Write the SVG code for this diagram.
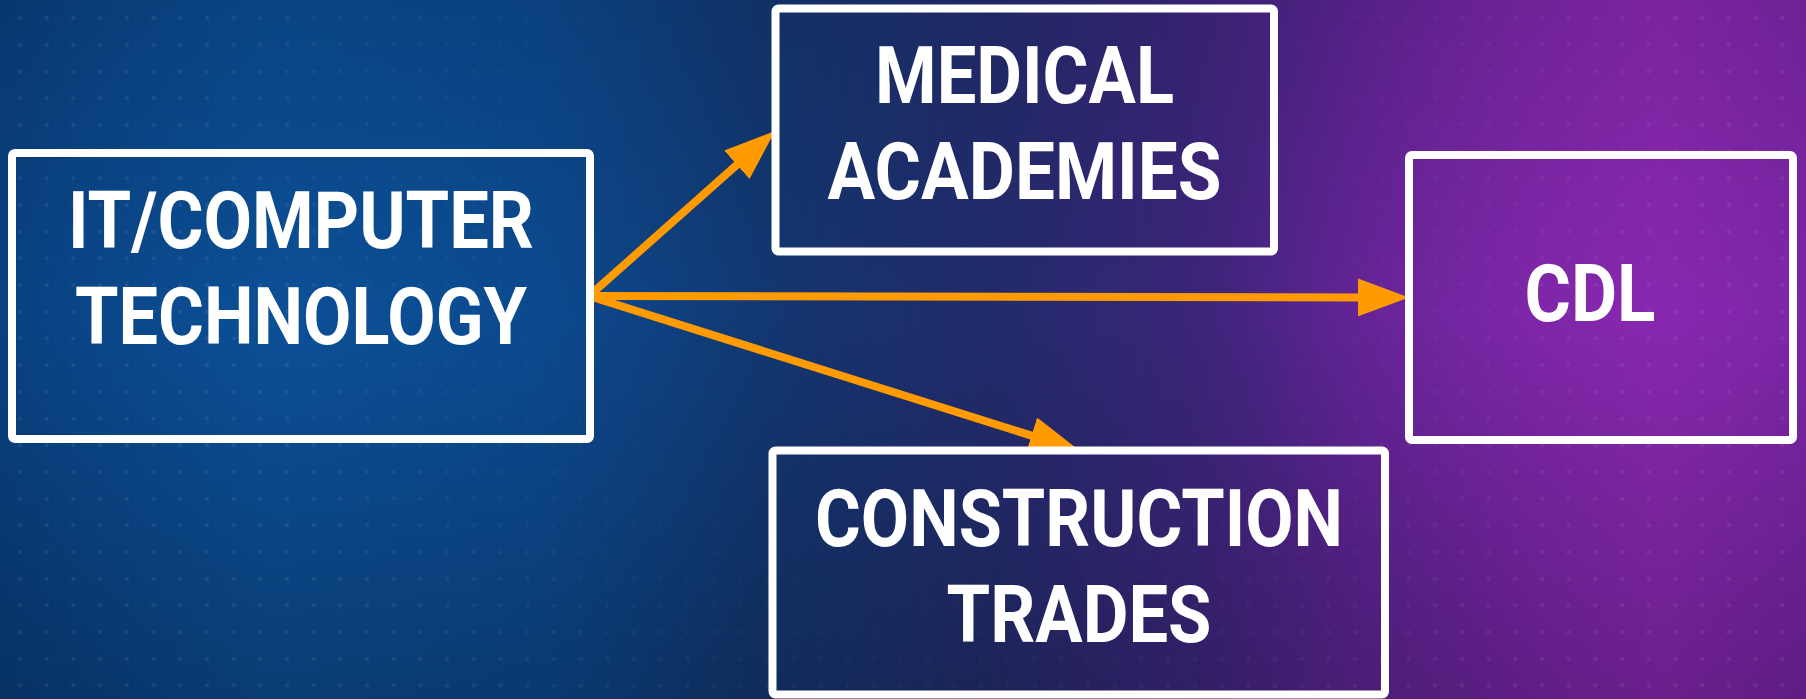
<svg xmlns="http://www.w3.org/2000/svg" width="1806" height="699" viewBox="0 0 1806 699">
  <defs>
    <linearGradient id="bgH" x1="0" y1="0" x2="1806" y2="0" gradientUnits="userSpaceOnUse">
      <stop offset="0" stop-color="#083a76"/>
      <stop offset="0.15" stop-color="#0a4789"/>
      <stop offset="0.3" stop-color="#0b4486"/>
      <stop offset="0.42" stop-color="#12366f"/>
      <stop offset="0.55" stop-color="#222b6b"/>
      <stop offset="0.66" stop-color="#3a2579"/>
      <stop offset="0.75" stop-color="#5a2390"/>
      <stop offset="0.85" stop-color="#7524a2"/>
      <stop offset="0.92" stop-color="#8226aa"/>
      <stop offset="1" stop-color="#7323a0"/>
    </linearGradient>
    <radialGradient id="glowBlue" cx="300" cy="340" r="520" gradientUnits="userSpaceOnUse">
      <stop offset="0" stop-color="#0e5aa8" stop-opacity="0.45"/>
      <stop offset="1" stop-color="#0e5aa8" stop-opacity="0"/>
    </radialGradient>
    <radialGradient id="glowPurple" cx="1650" cy="270" r="420" gradientUnits="userSpaceOnUse">
      <stop offset="0" stop-color="#8e2ab4" stop-opacity="0.5"/>
      <stop offset="1" stop-color="#8e2ab4" stop-opacity="0"/>
    </radialGradient>
    <linearGradient id="shadeV" x1="0" y1="0" x2="0" y2="699" gradientUnits="userSpaceOnUse">
      <stop offset="0" stop-color="#000" stop-opacity="0.08"/>
      <stop offset="0.45" stop-color="#000" stop-opacity="0"/>
      <stop offset="1" stop-color="#000" stop-opacity="0.18"/>
    </linearGradient>
    <pattern id="dots" x="20" y="18" width="26.7" height="26.7" patternUnits="userSpaceOnUse">
      <circle cx="0" cy="0" r="2.3" fill="#ffffff" fill-opacity="0.07"/>
      <circle cx="26.7" cy="0" r="2.3" fill="#ffffff" fill-opacity="0.07"/>
      <circle cx="0" cy="26.7" r="2.3" fill="#ffffff" fill-opacity="0.07"/>
      <circle cx="26.7" cy="26.7" r="2.3" fill="#ffffff" fill-opacity="0.07"/>
    </pattern>
    <radialGradient id="dotMaskGrad" cx="950" cy="180" r="1000" gradientUnits="userSpaceOnUse">
      <stop offset="0.3" stop-color="#000"/>
      <stop offset="0.75" stop-color="#fff"/>
    </radialGradient>
    <mask id="dotMask">
      <rect width="1806" height="699" fill="url(#dotMaskGrad)"/>
    </mask>
    <marker id="head" markerUnits="userSpaceOnUse" markerWidth="52" markerHeight="38" refX="11" refY="19" orient="auto" viewBox="0 0 52 38">
      <path d="M0,0 L51,19 L0,38 z" fill="#ff9a00"/>
    </marker>
    <style>
      .box { fill: none; stroke: #ffffff; stroke-width: 8; }
      .lbl { font-family: Roboto, "Liberation Sans", sans-serif; font-weight: 700; font-size: 80px; fill: #ffffff; text-anchor: middle; }
      .conn { stroke: #ff9a00; stroke-width: 8; fill: none; marker-end: url(#head); }
    </style>
  </defs>

  <g id="background">
    <rect width="1806" height="699" fill="url(#bgH)"/>
    <rect width="1806" height="699" fill="url(#glowBlue)"/>
    <rect width="1806" height="699" fill="url(#glowPurple)"/>
    <rect width="1806" height="699" fill="url(#shadeV)"/>
    <rect width="1806" height="699" fill="url(#dots)" mask="url(#dotMask)"/>
  </g>

  <g id="connectors">
    <line class="conn" x1="589" y1="296" x2="745.1" y2="157.5"/>
    <line class="conn" x1="589" y1="296" x2="1369" y2="297.4"/>
    <line class="conn" x1="589" y1="296" x2="1041.9" y2="438.9"/>
  </g>

  <g id="node-it">
    <rect class="box" x="12" y="153" width="578" height="286" rx="3"/>
    <text class="lbl" x="301" y="248" textLength="466" lengthAdjust="spacingAndGlyphs">IT/COMPUTER</text>
    <text class="lbl" x="301" y="344" textLength="452" lengthAdjust="spacingAndGlyphs">TECHNOLOGY</text>
  </g>

  <g id="node-medical">
    <rect class="box" x="775.5" y="8.5" width="498.5" height="243" rx="3"/>
    <text class="lbl" x="1024.5" y="102.5" textLength="299" lengthAdjust="spacingAndGlyphs">MEDICAL</text>
    <text class="lbl" x="1024.5" y="198.5" textLength="394" lengthAdjust="spacingAndGlyphs">ACADEMIES</text>
  </g>

  <g id="node-cdl">
    <rect class="box" x="1409" y="155" width="384" height="285" rx="3"/>
    <text class="lbl" x="1590" y="321" textLength="131" lengthAdjust="spacingAndGlyphs">CDL</text>
  </g>

  <g id="node-construction">
    <rect class="box" x="772.5" y="450.5" width="612.5" height="244" rx="3"/>
    <text class="lbl" x="1079" y="546" textLength="528" lengthAdjust="spacingAndGlyphs">CONSTRUCTION</text>
    <text class="lbl" x="1079" y="642" textLength="265" lengthAdjust="spacingAndGlyphs">TRADES</text>
  </g>
</svg>
